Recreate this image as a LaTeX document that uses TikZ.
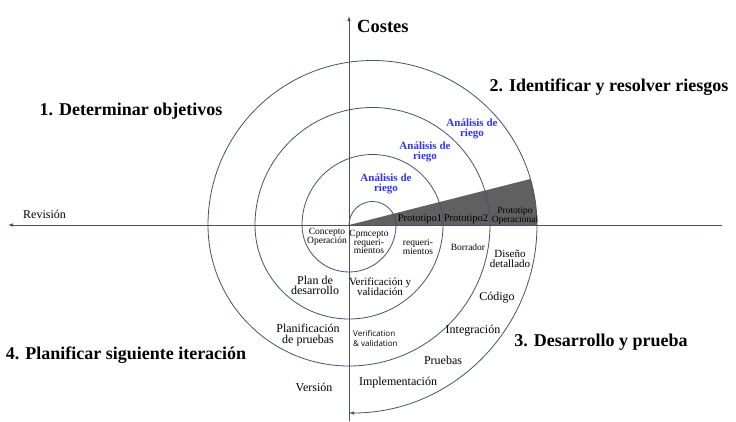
\documentclass[tikz,border=0pt]{standalone}
\usepackage{fontspec}
\setmainfont{Liberation Serif}
\newfontfamily\vsans{Open Sans}
\usetikzlibrary{arrows.meta}
\definecolor{axiscol}{RGB}{72,80,110}
\definecolor{bluetxt}{RGB}{50,50,245}
\definecolor{wedgecol}{RGB}{96,96,96}
\newcommand\tightls{\lineskiplimit=-20pt\relax}
\begin{document}
\begin{tikzpicture}[x=1pt,y=-1pt,
  line/.style={draw=axiscol, line width=0.8pt},
  tip/.style={-{Latex[length=5pt,width=3.6pt]}},
  heading/.style={font=\fontsize{18}{20}\selectfont\bfseries, inner sep=0pt, anchor=base},
  risk/.style={font={\fontsize{11}{10.5}\selectfont\bfseries\tightls}, text=bluetxt, align=center, inner sep=0pt},
  lbl/.style={font={\fontsize{12}{10.5}\selectfont\tightls}, align=center, inner sep=0pt},
  mid/.style={font={\fontsize{11}{10}\selectfont\tightls}, align=center, inner sep=0pt},
  proto/.style={font={\fontsize{10.5}{9}\selectfont}, align=center, inner sep=0pt},
  small/.style={font={\fontsize{9.5}{8.8}\selectfont\tightls}, align=center, inner sep=0pt},
  vvtext/.style={font={\vsans\fontsize{8}{10}\selectfont\tightls}, align=left, inner sep=0pt},
]
\useasboundingbox (0,0) rectangle (736,421);

% grey wedge
\fill[wedgecol] (349,225) -- (530.4,179) arc[start angle=-16.24,end angle=0,radius=164.5] -- cycle;

% axes
\coordinate (vtop) at (349,16);
\coordinate (vbot) at (349,421);
\coordinate (hright) at (722,225);
\coordinate (hleft) at (8,225);
\draw[line,tip] (vbot) -- (vtop);
\draw[line,tip] (hright) -- (hleft);

% spiral
\coordinate (origin) at (349,225);
\draw[line,tip] (origin)
  arc[start angle=180,end angle=360,radius=23.5]
  arc[start angle=0,end angle=180,radius=47]
  arc[start angle=180,end angle=360,radius=70.5]
  arc[start angle=0,end angle=180,radius=94]
  arc[start angle=180,end angle=360,radius=117.5]
  arc[start angle=0,end angle=180,radius=141]
  arc[start angle=180,end angle=360,radius=164.5]
  arc[start angle=0,end angle=90,radius=188];

% headings
\node[heading] (h1) at (131,115) {1. Determinar objetivos};
\node[heading] (h2) at (609,91) {2. Identificar y resolver riesgos};
\node[heading] (h3) at (601,346) {3. Desarrollo y prueba};
\node[heading] (h4) at (126,359) {4. Planificar siguiente iteración};
\node[heading, font={\fontsize{18.5}{20}\selectfont\bfseries}, anchor=base west] (costes) at (357,32) {Costes};
\node[lbl, anchor=base west] (rev) at (23,218) {Revisión};

% risk analysis
\node[risk] (r1) at (386,184) {Análisis de\\riego};
\node[risk] (r2) at (425,152) {Análisis de\\riego};
\node[risk] (r3) at (472,129) {Análisis de\\riego};

% prototypes
\node[proto] (p1) at (420,219) {Prototipo1};
\node[proto] (p2) at (466,219) {Prototipo2};
\node[small] (p3) at (515,215.5) {Prototipo\\Operacional};

% inner labels
\node[small] (co) at (327,237) {Concepto\\Operación};
\node[small] (cr) at (369,242) {Cpmcepto\\requeri-\\mientos};
\node[small] (req) at (418,247) {requeri-\\mientos};
\node[small] (bor) at (468,247) {Borrador};
\node[mid] (dis) at (510,259) {Diseño\\detallado};
\node[lbl] (plan) at (315,285.5) {Plan de\\desarrollo};
\node[mid] (vyv) at (380,287) {Verificación y\\validación};
\node[lbl] (pp) at (308,335) {Planificación\\de pruebas};
\node[vvtext, anchor=west] (vv) at (353,338) {Verification\\\& validation};
\node[lbl] (cod) at (497,298) {Código};
\node[lbl] (int) at (473,331) {Integración};
\node[lbl] (pru) at (443,360) {Pruebas};
\node[lbl] (imp) at (398,383) {Implementación};
\node[lbl] (ver) at (314,387) {Versión};
\end{tikzpicture}
\end{document}
